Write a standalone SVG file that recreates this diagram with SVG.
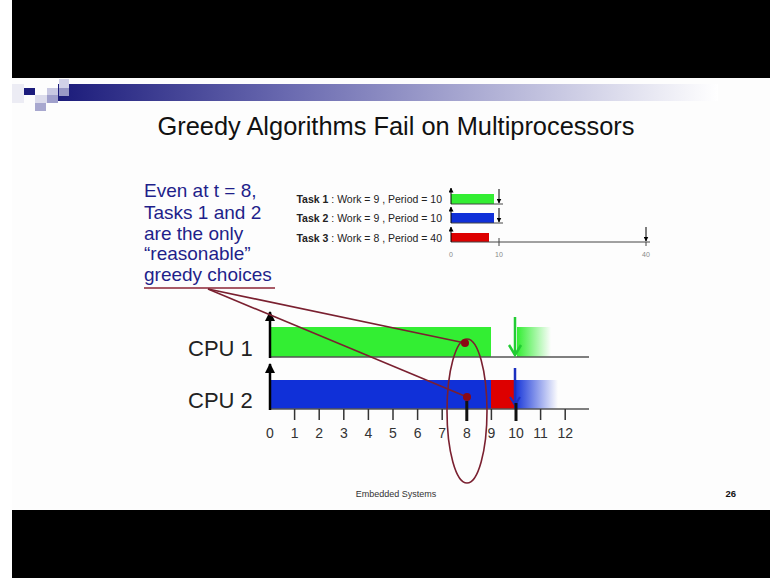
<svg xmlns="http://www.w3.org/2000/svg" width="770" height="578" viewBox="0 0 770 578">
<style>
.sans{font-family:"Liberation Sans",Arial,sans-serif}
.num{font-family:"Liberation Sans",Arial,sans-serif;font-size:14px;fill:#333;text-anchor:middle}
.small{font-family:"Liberation Sans",Arial,sans-serif;font-size:7px;fill:#888;text-anchor:middle}
.task{font-family:"Liberation Sans",Arial,sans-serif;font-size:10.5px;fill:#222;text-anchor:end}
.callout{font-family:"Liberation Sans",Arial,sans-serif;font-size:19px;fill:#1f1f8a}
.tick{stroke:#333;stroke-width:1.5}
.thick{stroke:#111;stroke-width:3}
.base{stroke:#555;stroke-width:1.6}
.tbase{stroke:#444;stroke-width:1}
.link{stroke:#7a2030;stroke-width:1.6;fill:none}
</style>
<defs>
<linearGradient id="hdr" x1="0" y1="0" x2="1" y2="0">
<stop offset="0" stop-color="#1b1b7a"/>
<stop offset="0.35" stop-color="#6a6ab0"/>
<stop offset="1" stop-color="#ffffff"/>
</linearGradient>
<linearGradient id="gfade" x1="0" y1="0" x2="1" y2="0">
<stop offset="0" stop-color="#33ee33"/>
<stop offset="1" stop-color="#33ee33" stop-opacity="0"/>
</linearGradient>
<linearGradient id="bfade" x1="0" y1="0" x2="1" y2="0">
<stop offset="0" stop-color="#1030d8"/>
<stop offset="1" stop-color="#1030d8" stop-opacity="0"/>
</linearGradient>
<marker id="big" viewBox="0 0 10 10" refX="9" refY="5" markerUnits="userSpaceOnUse" markerWidth="10" markerHeight="10" orient="auto">
<path d="M0,0 L10,5 L0,10 Z" fill="#000"/>
</marker>
<marker id="tiny" viewBox="0 0 10 10" refX="9" refY="5" markerUnits="userSpaceOnUse" markerWidth="5" markerHeight="5" orient="auto">
<path d="M0,0 L10,5 L0,10 Z" fill="#000"/>
</marker>
</defs>

<rect x="0" y="0" width="770" height="578" fill="#ffffff"/>
<rect x="12" y="0" width="758" height="78" fill="#000"/>
<rect x="12" y="510" width="758" height="68" fill="#000"/>
<rect x="12" y="78" width="758" height="432" fill="#fdfdfd"/>

<g id="header">
<rect x="12" y="84" width="12" height="19" fill="#ececf4"/>
<rect x="58" y="84" width="660" height="17" fill="url(#hdr)"/>
<rect x="24" y="88" width="11" height="7" fill="#1c1c7c"/>
<rect x="35" y="95" width="12" height="8" fill="#dcdcec"/>
<rect x="35" y="103" width="11" height="8" fill="#a8a8cf"/>
<rect x="47" y="88" width="11" height="7" fill="#c8c8e2"/>
<rect x="47" y="95" width="11" height="8" fill="#a0a0cc"/>
<rect x="59" y="79" width="10" height="9" fill="#d2d2e8"/>
<rect x="59" y="88" width="10" height="8" fill="#9898c6"/>
</g>

<g id="title">
<text x="396" y="135" class="sans" font-size="25.4" fill="#111" text-anchor="middle">Greedy Algorithms Fail on Multiprocessors</text>
</g>

<g id="callout">
<text class="callout" x="144" y="197">Even at t = 8,</text>
<text class="callout" x="144" y="219">Tasks 1 and 2</text>
<text class="callout" x="144" y="240">are the only</text>
<text class="callout" x="144" y="260">“reasonable”</text>
<text class="callout" x="144" y="281">greedy choices</text>
<line x1="144" y1="288" x2="275" y2="288" stroke="#8b2535" stroke-width="1.6"/>
</g>

<g id="task-chart">
<text class="task" x="442" y="203"><tspan font-weight="bold">Task 1</tspan> : Work = 9 , Period = 10</text>
<text class="task" x="442" y="222"><tspan font-weight="bold">Task 2</tspan> : Work = 9 , Period = 10</text>
<text class="task" x="442" y="242"><tspan font-weight="bold">Task 3</tspan> : Work = 8 , Period = 40</text>
<rect x="451" y="194" width="43" height="10" fill="#33ee33"/>
<rect x="451" y="213" width="43" height="10" fill="#1030d8"/>
<rect x="451" y="233" width="38" height="9" fill="#dd0000"/>
<line class="tbase" x1="451" y1="204" x2="503" y2="204"/>
<line class="tbase" x1="451" y1="223" x2="503" y2="223"/>
<line class="tbase" x1="451" y1="242" x2="650" y2="242"/>
<line x1="451" y1="204" x2="451" y2="188" stroke="#000" stroke-width="1" marker-end="url(#tiny)"/>
<line x1="451" y1="223" x2="451" y2="207" stroke="#000" stroke-width="1" marker-end="url(#tiny)"/>
<line x1="451" y1="242" x2="451" y2="227" stroke="#000" stroke-width="1" marker-end="url(#tiny)"/>
<line x1="499" y1="189" x2="499" y2="203" stroke="#000" stroke-width="1" marker-end="url(#tiny)"/>
<line x1="499" y1="208" x2="499" y2="222" stroke="#000" stroke-width="1" marker-end="url(#tiny)"/>
<line x1="499" y1="238" x2="499" y2="246" stroke="#444" stroke-width="1"/>
<line x1="646" y1="227" x2="646" y2="241" stroke="#000" stroke-width="1" marker-end="url(#tiny)"/>
<line x1="646" y1="242" x2="646" y2="246" stroke="#444" stroke-width="1"/>
<text class="small" x="451" y="257">0</text>
<text class="small" x="499" y="257">10</text>
<text class="small" x="646" y="257">40</text>
</g>

<g id="cpu1">
<text class="sans" x="188" y="356" font-size="22" fill="#222">CPU 1</text>
<rect x="270" y="327" width="221" height="30" fill="#33ee33"/>
<rect x="517" y="327" width="34" height="30" fill="url(#gfade)"/>
<line class="base" x1="270" y1="357" x2="589" y2="357"/>
<line x1="270" y1="358" x2="270" y2="312" stroke="#000" stroke-width="2.5" marker-end="url(#big)"/>
<line x1="515" y1="317" x2="515" y2="355" stroke="#22cc33" stroke-width="2.5"/>
<path d="M509,345 L515,355 L521,345" fill="none" stroke="#22cc33" stroke-width="2.5"/>
</g>

<g id="cpu2">
<text class="sans" x="188" y="408" font-size="22" fill="#222">CPU 2</text>
<rect x="270" y="380" width="221" height="29" fill="#1030d8"/>
<rect x="491" y="380" width="23" height="29" fill="#dd0000"/>
<rect x="514" y="380" width="44" height="29" fill="url(#bfade)"/>
<line class="base" x1="270" y1="409" x2="589" y2="409"/>
<line x1="270" y1="410" x2="270" y2="364" stroke="#000" stroke-width="2.5" marker-end="url(#big)"/>
<line x1="515" y1="368" x2="515" y2="405" stroke="#1a2fc0" stroke-width="2.5"/>
<path d="M510,397 L515,405 L520,397" fill="none" stroke="#1a2fc0" stroke-width="2"/>
</g>

<g id="axis">
<line class="tick" x1="294.6" y1="409" x2="294.6" y2="420"/>
<line class="tick" x1="319.2" y1="409" x2="319.2" y2="420"/>
<line class="tick" x1="343.8" y1="409" x2="343.8" y2="420"/>
<line class="tick" x1="368.4" y1="409" x2="368.4" y2="420"/>
<line class="tick" x1="393" y1="409" x2="393" y2="420"/>
<line class="tick" x1="417.6" y1="409" x2="417.6" y2="420"/>
<line class="tick" x1="442.2" y1="409" x2="442.2" y2="420"/>
<line class="thick" x1="466.8" y1="401" x2="466.8" y2="421"/>
<line class="tick" x1="491.4" y1="409" x2="491.4" y2="420"/>
<line class="thick" x1="516" y1="403" x2="516" y2="421"/>
<line class="tick" x1="540.6" y1="409" x2="540.6" y2="420"/>
<line class="tick" x1="565.2" y1="409" x2="565.2" y2="420"/>
<text class="num" x="270" y="438">0</text>
<text class="num" x="294.6" y="438">1</text>
<text class="num" x="319.2" y="438">2</text>
<text class="num" x="343.8" y="438">3</text>
<text class="num" x="368.4" y="438">4</text>
<text class="num" x="393" y="438">5</text>
<text class="num" x="417.6" y="438">6</text>
<text class="num" x="442.2" y="438">7</text>
<text class="num" x="466.8" y="438">8</text>
<text class="num" x="491.4" y="438">9</text>
<text class="num" x="516" y="438">10</text>
<text class="num" x="540.6" y="438">11</text>
<text class="num" x="565.2" y="438">12</text>
</g>

<g id="connectors">
<line class="link" x1="208" y1="289" x2="465" y2="343"/>
<line class="link" x1="208" y1="289" x2="467" y2="397"/>
<ellipse class="link" cx="467" cy="411" rx="20" ry="72"/>
<circle cx="465" cy="343" r="4" fill="#8b0a14"/>
<circle cx="467" cy="397" r="4" fill="#8b0a14"/>
</g>

<g id="footer">
<text class="sans" x="396" y="497" font-size="9" fill="#333" text-anchor="middle">Embedded Systems</text>
<text class="sans" x="736" y="497" font-size="9.5" font-weight="bold" fill="#111" text-anchor="end">26</text>
</g>
</svg>
